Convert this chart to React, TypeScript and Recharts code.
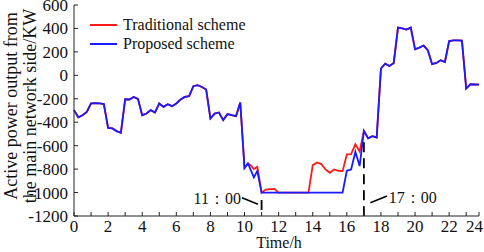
import { LineChart, Line, XAxis, YAxis, Legend, ReferenceLine, ReferenceDot } from "recharts"

// time of day (h), 15 min steps with a few extra samples around 10-11 h
const hours = [
  0, 0.25, 0.5, 0.75, 1, 1.25, 1.5, 1.75,
  2, 2.25, 2.5, 2.75, 3, 3.25, 3.5, 3.75,
  4, 4.25, 4.5, 4.75, 5, 5.25, 5.5, 5.75,
  6, 6.25, 6.5, 6.75, 7, 7.25, 7.5, 7.75,
  8, 8.25, 8.5, 8.75, 9, 9.25, 9.5, 9.75,
  10, 10.2, 10.35, 10.55, 10.75, 11, 11.25, 11.5, 11.75,
  12, 12.25, 12.5, 12.75, 13, 13.25, 13.5, 13.75,
  14, 14.25, 14.5, 14.75, 15, 15.25, 15.5, 15.75,
  16, 16.25, 16.5, 16.75, 17, 17.25, 17.5, 17.75,
  18, 18.25, 18.5, 18.75, 19, 19.25, 19.5, 19.75,
  20, 20.25, 20.5, 20.75, 21, 21.25, 21.5, 21.75,
  22, 22.25, 22.5, 22.75, 23, 23.25, 23.5, 23.75,
]

const traditional = [
  -297, -358, -340, -312, -240, -238, -240, -245,
  -448, -453, -476, -490, -204, -206, -184, -201,
  -340, -326, -297, -317, -240, -269, -246, -263,
  -240, -206, -184, -178, -93, -84, -99, -121,
  -368, -326, -317, -382, -331, -340, -348, -232,
  -790, -752, -766, -800, -780, -1000, -975, -970, -968,
  -1000, -1000, -1000, -1000, -1000, -1000, -1000, -1000,
  -766, -743, -757, -803, -831, -803, -814, -817,
  -675, -672, -587, -650, -474, -538, -519, -530,
  58, 100, 80, 106, 407, 401, 390, 407,
  222, 237, 254, 214, 95, 106, 129, 114,
  293, 299, 299, 296, -113, -76, -78, -80,
]

const proposed = [
  -297, -358, -340, -312, -240, -238, -240, -245,
  -448, -453, -476, -490, -204, -206, -184, -201,
  -340, -326, -297, -317, -240, -269, -246, -263,
  -240, -206, -184, -178, -93, -84, -99, -121,
  -368, -326, -317, -382, -331, -340, -348, -232,
  -790, -752, -803, -871, -815, -1000, -1000, -1000, -1000,
  -1000, -1000, -1000, -1000, -1000, -1000, -1000, -1000,
  -1000, -1000, -1000, -1000, -1000, -1000, -1000, -1000,
  -814, -803, -652, -774, -474, -538, -519, -530,
  58, 100, 80, 106, 407, 401, 390, 407,
  222, 237, 254, 214, 95, 106, 129, 114,
  293, 299, 299, 296, -113, -76, -78, -80,
]

const seriesNames = ["Traditional scheme", "Proposed scheme"]

const xTicks = [
  0, 1, 2, 3, 4, 5, 6, 7, 8, 9, 10, 11,
  12, 13, 14, 15, 16, 17, 18, 19, 20, 21, 22, 23, 23.75,
]
const xTickLabels = [
  "0", "", "2", "", "4", "", "6", "", "8", "", "10", "",
  "12", "", "14", "", "16", "", "18", "", "20", "", "22", "", "24",
]
const yTicks = [-1200, -1000, -800, -600, -400, -200, 0, 200, 400, 600]

const data = hours.map((h, i) => ({ h, traditional: traditional[i], proposed: proposed[i] }))

const FONT = "'Liberation Serif', 'Times New Roman', serif"
const AXIS = "#222"
const FRAME = "#555"
const TEXT = "#111"

function XTick(props: any) {
  const { x, y, payload } = props
  const i = xTicks.indexOf(payload.value)
  const label = xTickLabels[i]
  const last = i === xTicks.length - 1
  return (
    <g>
      <line x1={x} y1={y} x2={x} y2={y - 4} stroke={AXIS} />
      {label && (
        <text
          x={last ? x + 4 : x}
          y={y + 16}
          textAnchor={last ? "end" : "middle"}
          fontSize={17}
          fontFamily={FONT}
          fill={TEXT}
        >
          {label}
        </text>
      )}
    </g>
  )
}

function YTick(props: any) {
  const { x, y, payload } = props
  return (
    <g>
      <line x1={x} y1={y} x2={x + 4} y2={y} stroke={AXIS} />
      <text x={x - 6} y={y + 6} textAnchor="end" fontSize={17} fontFamily={FONT} fill={TEXT}>
        {String(payload.value)}
      </text>
    </g>
  )
}

const annot = (text: string, anchor: string) => (props: any) => {
  const vb = props.viewBox
  return (
    <text
      x={vb.x + vb.width / 2}
      y={vb.y + vb.height / 2}
      textAnchor={anchor}
      fontSize={16}
      fontFamily={FONT}
      fill={TEXT}
    >
      {text}
    </text>
  )
}

function LegendBox(props: any) {
  const items = [...(props.payload || [])].sort(
    (a: any, b: any) => seriesNames.indexOf(a.value) - seriesNames.indexOf(b.value)
  )
  return (
    <div style={{ fontFamily: FONT, fontSize: 16, color: TEXT }}>
      {items.map((p: any) => (
        <div key={p.value} style={{ display: "flex", alignItems: "center", height: 19, whiteSpace: "nowrap" }}>
          <svg width={27} height={4} style={{ marginRight: 6 }}>
            <line x1={0} y1={2} x2={27} y2={2} stroke={p.color} strokeWidth={2} />
          </svg>
          <span>{p.value}</span>
        </div>
      ))}
    </div>
  )
}

export default function App() {
  return (
    <div style={{ position: "absolute", left: 0, top: 0, width: 484, height: 252, background: "#fff" }}>
      <LineChart width={484} height={252} data={data} margin={{ top: 5, right: 5, bottom: 0, left: 0 }}>
        <XAxis
          dataKey="h"
          type="number"
          domain={[0, 23.75]}
          ticks={xTicks}
          interval={0}
          tick={<XTick />}
          tickSize={0}
          tickMargin={0}
          tickLine={false}
          axisLine={{ stroke: AXIS }}
          height={36}
          label={() => (
            <text x={279} y={248} textAnchor="middle" fontSize={16} fontFamily={FONT} fill={TEXT}>
              Time/h
            </text>
          )}
        />
        <XAxis
          xAxisId="top"
          orientation="top"
          type="number"
          domain={[0, 23.75]}
          height={0}
          tick={false}
          tickLine={false}
          axisLine={{ stroke: FRAME }}
        />
        <YAxis
          type="number"
          domain={[-1200, 600]}
          ticks={yTicks}
          interval={0}
          tick={<YTick />}
          tickSize={0}
          tickMargin={0}
          tickLine={false}
          axisLine={{ stroke: AXIS }}
          width={74}
          label={() => (
            <g fontSize={18} fontFamily={FONT} fill={TEXT}>
              <text transform="rotate(-90)" x={-106} y={17} textAnchor="middle">
                Active power output from
              </text>
              <text transform="rotate(-90)" x={-106} y={36} textAnchor="middle">
                the main network side/KW
              </text>
            </g>
          )}
        />
        <YAxis
          yAxisId="right"
          orientation="right"
          type="number"
          domain={[-1200, 600]}
          width={0}
          tick={false}
          tickLine={false}
          axisLine={{ stroke: FRAME }}
        />
        <ReferenceLine segment={[{ x: 11, y: -1064 }, { x: 11, y: -1200 }]} stroke="#000" strokeWidth={1.8} strokeDasharray="10 6" />
        <ReferenceLine segment={[{ x: 17, y: -570 }, { x: 17, y: -1200 }]} stroke="#000" strokeWidth={1.8} strokeDasharray="10 6" />
        <ReferenceLine segment={[{ x: 9.85, y: -1044 }, { x: 10.79, y: -1100 }]} stroke="#000" strokeWidth={1.5} />
        <ReferenceLine segment={[{ x: 17.38, y: -1087 }, { x: 18.36, y: -1029 }]} stroke="#000" strokeWidth={1.5} />
        <ReferenceDot x={9.79} y={-1098} r={1} fill="none" stroke="none" label={annot("11：00", "end")} />
        <ReferenceDot x={18.46} y={-1087} r={1} fill="none" stroke="none" label={annot("17：00", "start")} />
        <Line
          type="linear"
          dataKey="traditional"
          name={seriesNames[0]}
          stroke="#ff1a1a"
          strokeWidth={1.8}
          dot={false}
          isAnimationActive={false}
        />
        <Line
          type="linear"
          dataKey="proposed"
          name={seriesNames[1]}
          stroke="#1a1aff"
          strokeWidth={1.8}
          dot={false}
          isAnimationActive={false}
        />
        <Legend
          layout="vertical"
          align="center"
          verticalAlign="middle"
          content={<LegendBox />}
          wrapperStyle={{ left: 90, top: 15, width: 220 }}
        />
      </LineChart>
    </div>
  )
}
